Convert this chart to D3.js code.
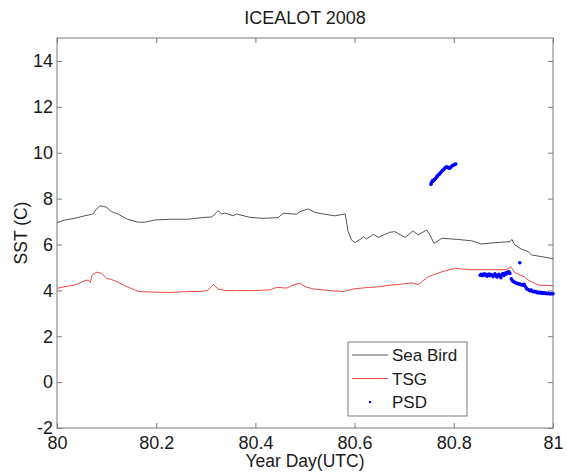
<!DOCTYPE html>
<html lang="en">
<head>
	<meta charset="UTF-8">
	<title>ICEALOT 2008</title>
	<script src="https://cdnjs.cloudflare.com/ajax/libs/d3/7.8.5/d3.min.js"></script>
	<style>
		body { margin: 0; background: #fff; }
		svg { font-family: 'Liberation Sans', Arial, sans-serif; }
	</style>
</head>
<body>
	<svg id="viz"></svg>
	<script>
		// Sea Bird (gray line)
		const seaBirdX = [80.000, 80.016, 80.036, 80.056, 80.073, 80.078, 80.087, 80.100, 80.110, 80.123, 80.141, 80.163, 80.177, 80.198, 80.231, 80.264, 80.292, 80.312, 80.325, 80.332, 80.339, 80.355, 80.362, 80.389, 80.415, 80.446, 80.456, 80.483, 80.490, 80.506, 80.520, 80.536, 80.560, 80.581, 80.587, 80.594, 80.601, 80.611, 80.618, 80.624, 80.638, 80.648, 80.671, 80.681, 80.702, 80.718, 80.728, 80.745, 80.752, 80.760, 80.776, 80.808, 80.836, 80.856, 80.883, 80.913, 80.917, 80.923, 80.937, 80.950, 80.957, 80.977, 81.000];
		const seaBirdY = [6.95, 7.07, 7.14, 7.25, 7.33, 7.50, 7.69, 7.62, 7.43, 7.33, 7.11, 6.97, 6.97, 7.07, 7.10, 7.10, 7.17, 7.20, 7.47, 7.33, 7.37, 7.25, 7.33, 7.18, 7.14, 7.17, 7.36, 7.32, 7.43, 7.55, 7.40, 7.33, 7.25, 7.33, 6.56, 6.19, 6.08, 6.22, 6.34, 6.24, 6.44, 6.31, 6.53, 6.56, 6.31, 6.59, 6.41, 6.63, 6.41, 6.05, 6.27, 6.22, 6.16, 6.02, 6.08, 6.12, 6.22, 5.98, 5.79, 5.69, 5.54, 5.47, 5.38];

		// TSG (red line)
		const tsgX = [80.000, 80.016, 80.036, 80.056, 80.063, 80.067, 80.071, 80.080, 80.090, 80.100, 80.117, 80.137, 80.164, 80.198, 80.231, 80.265, 80.292, 80.305, 80.315, 80.325, 80.339, 80.362, 80.396, 80.429, 80.443, 80.463, 80.476, 80.490, 80.500, 80.517, 80.550, 80.577, 80.597, 80.624, 80.651, 80.671, 80.688, 80.715, 80.728, 80.749, 80.776, 80.802, 80.836, 80.876, 80.907, 80.915, 80.923, 80.944, 80.950, 80.970, 81.000];
		const tsgY = [4.09, 4.16, 4.23, 4.42, 4.45, 4.35, 4.67, 4.79, 4.74, 4.53, 4.42, 4.20, 3.95, 3.92, 3.91, 3.95, 3.95, 4.02, 4.26, 4.06, 3.99, 3.99, 3.99, 4.02, 4.13, 4.10, 4.23, 4.31, 4.16, 4.06, 3.99, 3.95, 4.06, 4.12, 4.16, 4.23, 4.25, 4.33, 4.25, 4.60, 4.81, 4.96, 4.90, 4.90, 4.90, 5.03, 4.77, 4.57, 4.45, 4.23, 4.20];

		// PSD (blue points)
		const psdX = [80.754, 80.755, 80.757, 80.758, 80.760, 80.762, 80.764, 80.766, 80.767, 80.769, 80.771, 80.772, 80.774, 80.776, 80.778, 80.780, 80.782, 80.784, 80.786, 80.788, 80.790, 80.792, 80.794, 80.796, 80.798, 80.800, 80.802, 80.804,
			80.853, 80.855, 80.857, 80.859, 80.861, 80.863, 80.865, 80.867, 80.869, 80.871, 80.873, 80.875, 80.877, 80.879, 80.881, 80.883, 80.885, 80.887, 80.889, 80.891, 80.893, 80.895, 80.897, 80.899, 80.901, 80.903, 80.905, 80.907, 80.909, 80.911, 80.913,
			80.916, 80.918, 80.920, 80.922, 80.924, 80.926, 80.928, 80.930, 80.932, 80.934, 80.936, 80.938, 80.940, 80.942, 80.944, 80.946, 80.948, 80.950, 80.952, 80.954, 80.956, 80.958, 80.960, 80.962, 80.964, 80.966, 80.968, 80.970, 80.972, 80.974, 80.976, 80.978, 80.980, 80.982, 80.984, 80.986, 80.988, 80.990, 80.992, 80.994, 80.996, 80.998, 81.000,
			80.933];
		const psdY = [8.62, 8.70, 8.78, 8.76, 8.82, 8.84, 8.90, 8.95, 8.99, 9.04, 9.06, 9.10, 9.15, 9.20, 9.24, 9.27, 9.33, 9.36, 9.39, 9.36, 9.33, 9.32, 9.38, 9.42, 9.44, 9.46, 9.49, 9.51,
			4.66, 4.70, 4.64, 4.68, 4.72, 4.66, 4.70, 4.62, 4.68, 4.71, 4.64, 4.69, 4.66, 4.60, 4.67, 4.72, 4.63, 4.58, 4.66, 4.70, 4.62, 4.55, 4.68, 4.73, 4.65, 4.70, 4.76, 4.72, 4.79, 4.81, 4.74,
			4.50, 4.42, 4.40, 4.36, 4.33, 4.32, 4.30, 4.28, 4.29, 4.26, 4.24, 4.25, 4.22, 4.26, 4.18, 4.10, 4.05, 4.04, 4.00, 3.98, 4.01, 3.96, 3.94, 3.96, 3.93, 3.95, 3.90, 3.92, 3.89, 3.91, 3.88, 3.90, 3.87, 3.89, 3.86, 3.88, 3.85, 3.87, 3.86, 3.84, 3.86, 3.85, 3.85,
			5.20];

		const xTicks = [80, 80.2, 80.4, 80.6, 80.8, 81];
		const yTicks = [-2, 0, 2, 4, 6, 8, 10, 12, 14];
		const legendLabels = ['Sea Bird', 'TSG', 'PSD'];

		const width = 567;
		const height = 473;
		const margin = { top: 38, right: 14, bottom: 45, left: 57 };
		const axisColor = '#7a7a7a';
		const textColor = '#1a1a1a';

		const svg = d3.select('#viz')
			.attr('width', width)
			.attr('height', height);

		const x = d3.scaleLinear()
			.domain([80, 81])
			.range([margin.left, width - margin.right]);
		const y = d3.scaleLinear()
			.domain([-2, 15])
			.range([height - margin.bottom, margin.top]);

		// plot box
		svg.append('rect')
			.attr('x', x(80)).attr('y', y(15))
			.attr('width', x(81) - x(80)).attr('height', y(-2) - y(15))
			.attr('fill', '#fff')
			.attr('stroke', axisColor)
			.attr('stroke-width', 1);

		// inward ticks on all four sides, plain hyphen for negatives
		const plain = d => String(d);
		function styleAxis(g) {
			g.select('.domain').remove();
			g.selectAll('.tick line').attr('stroke', axisColor);
			g.selectAll('.tick text').attr('fill', textColor).attr('font-size', 18);
		}
		svg.append('g')
			.attr('transform', `translate(0,${y(-2)})`)
			.call(d3.axisBottom(x).tickValues(xTicks).tickFormat(plain).tickSizeInner(-5).tickPadding(8))
			.call(styleAxis);
		svg.append('g')
			.attr('transform', `translate(0,${y(15)})`)
			.call(d3.axisTop(x).tickValues(xTicks).tickFormat('').tickSizeInner(-5))
			.call(styleAxis);
		svg.append('g')
			.attr('transform', `translate(${x(80)},0)`)
			.call(d3.axisLeft(y).tickValues(yTicks).tickFormat(plain).tickSizeInner(-5).tickPadding(4))
			.call(styleAxis);
		svg.append('g')
			.attr('transform', `translate(${x(81)},0)`)
			.call(d3.axisRight(y).tickValues(yTicks).tickFormat('').tickSizeInner(-5))
			.call(styleAxis);

		const line = d3.line()
			.x(d => x(d[0]))
			.y(d => y(d[1]));

		svg.append('path')
			.datum(d3.zip(seaBirdX, seaBirdY))
			.attr('d', line)
			.attr('fill', 'none')
			.attr('stroke', '#555')
			.attr('stroke-width', 1);

		svg.append('path')
			.datum(d3.zip(tsgX, tsgY))
			.attr('d', line)
			.attr('fill', 'none')
			.attr('stroke', '#f04848')
			.attr('stroke-width', 1);

		svg.append('g')
			.selectAll('circle')
			.data(d3.zip(psdX, psdY))
			.join('circle')
			.attr('cx', d => x(d[0]))
			.attr('cy', d => y(d[1]))
			.attr('r', 1.8)
			.attr('fill', '#0000ff');

		// title and axis labels
		svg.append('text')
			.attr('x', (x(80) + x(81)) / 2).attr('y', 24)
			.attr('text-anchor', 'middle')
			.attr('font-size', 18)
			.attr('fill', textColor)
			.text('ICEALOT 2008');
		svg.append('text')
			.attr('x', (x(80) + x(81)) / 2).attr('y', 467)
			.attr('text-anchor', 'middle')
			.attr('font-size', 17.5)
			.attr('fill', textColor)
			.text('Year Day(UTC)');
		svg.append('text')
			.attr('transform', `translate(27,${(y(-2) + y(15)) / 2}) rotate(-90)`)
			.attr('text-anchor', 'middle')
			.attr('font-size', 17.5)
			.attr('fill', textColor)
			.text('SST (C)');

		// legend
		const legend = svg.append('g').attr('transform', 'translate(348,342)');
		legend.append('rect')
			.attr('width', 119).attr('height', 74)
			.attr('fill', '#fff')
			.attr('stroke', axisColor);
		const legendColors = ['#555', '#f04848', '#0000ff'];
		legendLabels.forEach((label, i) => {
			const ly = 13 + i * 23.5;
			if (i < 2) {
				legend.append('line')
					.attr('x1', 4).attr('x2', 40)
					.attr('y1', ly).attr('y2', ly)
					.attr('stroke', legendColors[i]);
			} else {
				legend.append('circle')
					.attr('cx', 22).attr('cy', ly).attr('r', 1.2)
					.attr('fill', legendColors[i]);
			}
			legend.append('text')
				.attr('x', 44).attr('y', ly + 6)
				.attr('font-size', 17)
				.attr('fill', textColor)
				.text(label);
		});
	</script>
</body>
</html>
